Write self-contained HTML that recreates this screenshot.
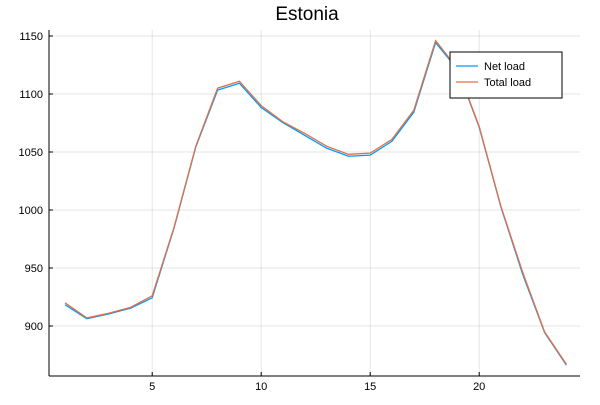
<!DOCTYPE html>
<html><head><meta charset="utf-8"><style>
body{margin:0;background:#fff}
svg text{font-family:"Liberation Sans",sans-serif}
</style></head><body>
<svg id="c" width="600" height="400">
<text x="307" y="20" font-size="19" text-anchor="middle">Estonia</text>
<g id="grid"></g>
<rect x="49" y="30" width="531" height="346" fill="none" stroke="none"/>
<line x1="49" y1="30" x2="49" y2="376" stroke="#000" stroke-width="1"/>
<line x1="49" y1="376" x2="580" y2="376" stroke="#000" stroke-width="1"/>
<g id="ticks"></g>
<g id="series"></g>
<g>
<rect x="450" y="52" width="112" height="46" fill="#fff" stroke="#000" stroke-width="1"/>
<line x1="456" y1="66" x2="478" y2="66" stroke="#009af9" stroke-width="1.2"/>
<text x="484" y="70" font-size="11">Net load</text>
<line x1="456" y1="82" x2="478" y2="82" stroke="#e26f46" stroke-width="1.2"/>
<text x="484" y="86" font-size="11">Total load</text>
</g>
</svg>
<script>
const hours=[1,2,3,4,5,6,7,8,9,10,11,12,13,14,15,16,17,18,19,20,21,22,23,24];
const netLoad=[919,907,911,916,925,985,1055,1104,1110,1089,1076,1065,1054,1047,1048,1060,1085,1145,1122,1072,1003,945,895,867];
const totalLoad=[920,907,911,916,926,985,1055,1105,1111,1090,1076,1066,1055,1048,1049,1061,1086,1146,1122,1072,1003,946,895,867];
const xTicks=[5,10,15,20];
const yTicks=[900,950,1000,1050,1100,1150];
const X=v=>65+(v-1)*21.8;
const Y=v=>326-(v-900)*1.16;
const NS="http://www.w3.org/2000/svg";
const grid=document.getElementById('grid'),ticks=document.getElementById('ticks'),ser=document.getElementById('series');
function mk(t,a,p){const e=document.createElementNS(NS,t);for(const k in a)e.setAttribute(k,a[k]);p.appendChild(e);return e;}
xTicks.forEach(v=>{
 const g=mk('line',{x1:X(v),x2:X(v),y1:30,y2:376,stroke:'#000','stroke-opacity':0.1},grid);
 
 
 const t=mk('text',{x:X(v),y:390,'font-size':11,'text-anchor':'middle'},ticks);t.textContent=v;
 
 
 mk('line',{x1:X(v),x2:X(v),y1:376,y2:372,stroke:'#000'},ticks);
});
yTicks.forEach(v=>{
 const g=mk('line',{x1:49,x2:580,y1:Y(v),y2:Y(v),stroke:'#000','stroke-opacity':0.1},grid);
 
 
 const t=mk('text',{x:43,y:Y(v)+4,'font-size':11,'text-anchor':'end'},ticks);t.textContent=v;
 
 
 mk('line',{x1:49,x2:53,y1:Y(v),y2:Y(v),stroke:'#000'},ticks);
});
function line(d,c,n,dy){
 const p=mk('polyline',{points:d.map((v,i)=>X(hours[i])+','+(Y(v)+dy)).join(' '),fill:'none',stroke:c,'stroke-width':1.3},ser);
 
 
}
line(netLoad,'#009af9','net-load-line',0.8);
line(totalLoad,'#e26f46','total-load-line',0);
</script>
</body></html>
